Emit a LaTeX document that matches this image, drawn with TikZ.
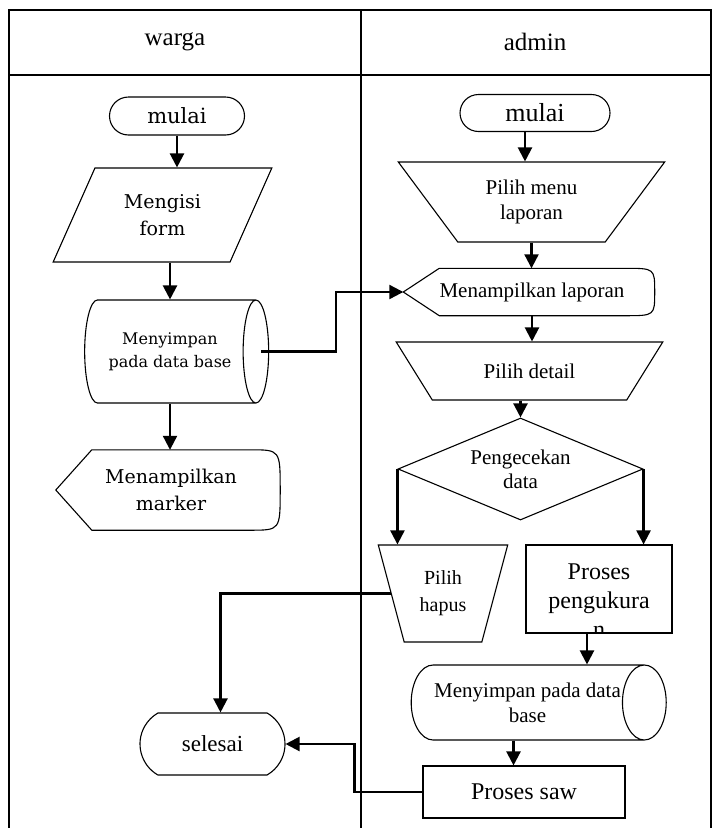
\documentclass[tikz,border=0pt]{standalone}
\usepackage{fontspec}
\setmainfont{Liberation Serif}
\newfontfamily\palfont{DejaVu Serif}
\usetikzlibrary{shapes.geometric,shapes.misc,arrows.meta}

\newcommand{\fs}[2]{\fontsize{#1}{#2}\selectfont}

\tikzset{
  base/.style={draw, line width=1.1pt, align=center, inner sep=0pt},
  terminal/.style={base, rounded rectangle, minimum width=#1, minimum height=38pt},
  inputbox/.style={base, trapezium, trapezium stretches=true, trapezium left angle=60, trapezium right angle=120},
  manualop/.style={base, trapezium, trapezium stretches=true, shape border rotate=180, trapezium angle=#1},
  % cylinder: minimum width is the vertical size here, minimum height the horizontal one
  storage/.style={base, cylinder, aspect=#1},
  procbox/.style={base, rectangle},
  decision/.style={base, diamond, aspect=2.4},
  display/.style={align=center, inner sep=0pt,
    append after command={\pgfextra{\draw[line width=1.1pt]
      (\tikzlastnode.north west) -- (\tikzlastnode.north east)
      .. controls ([xshift=30pt]\tikzlastnode.north east) .. ([xshift=30pt]\tikzlastnode.east)
      .. controls ([xshift=30pt]\tikzlastnode.south east) .. (\tikzlastnode.south east)
      -- (\tikzlastnode.south west) -- ([xshift=-36pt]\tikzlastnode.west) -- cycle;}}},
  arr/.style={line width=2.2pt, -{Triangle[length=14pt,width=14pt]}},
  frame/.style={line width=1.2pt}
}

\begin{document}
\begin{tikzpicture}[x=1pt,y=-1pt]
\useasboundingbox (0,0) rectangle (713,828);

% lanes
\draw[frame] (9,828) -- (9,10) -- (711,10) -- (711,828);
\draw[frame] (361,10) -- (361,828);
\draw[line width=1.8pt] (9,75) -- (711,75);
\node[font=\fs{25}{29}] (laneW) at (175,42) {warga};
\node[font=\fs{25}{29}] (laneA) at (535,42) {admin};

% warga
\node[terminal=135pt, font=\palfont\fs{21}{25}] (mulaiW) at (177,116) {mulai};
\node[inputbox, minimum width=219pt, minimum height=94pt, font=\palfont\fs{19}{27}] (form) at (162.5,215) {Mengisi\\form};
\node[storage=0.67, minimum width=103pt, minimum height=184pt, font=\palfont\fs{16}{23}] (simpanW) at (170,351.5) {Menyimpan\\pada data base};
\node[display, minimum width=158pt, minimum height=80pt, font=\palfont\fs{19}{27}] (marker) at (171,490) {Menampilkan\\marker};
\node[terminal=145pt, minimum height=62pt, rounded rectangle arc length=120, font=\fs{23}{27}] (selesai) at (212.5,744) {selesai};

% admin
\node[terminal=150pt, minimum height=37pt, font=\fs{26}{30}] (mulaiA) at (535,113) {mulai};
\node[manualop=50, minimum width=267pt, minimum height=80pt, font=\fs{21}{25}] (menu) at (531.5,202) {Pilih menu\\laporan};
\node[display, minimum width=185pt, minimum height=47pt, font=\fs{21}{25}] (laporan) at (532,292) {Menampilkan laporan};
\node[manualop=41, minimum width=267pt, minimum height=58pt, font=\fs{21}{25}] (detail) at (529.5,371) {Pilih detail};
\node[decision, minimum width=245pt, minimum height=102pt, font=\fs{21}{24}] (cek) at (520.5,469) {Pengecekan\\data};
\node[manualop=71, minimum width=130pt, minimum height=97pt, font=\fs{20}{27}] (hapus) at (443,593.5) {Pilih\\hapus};
\node[procbox, minimum width=146pt, minimum height=88pt] (ukur) at (599,589) {};
\begin{scope}
\clip (ukur.south west) rectangle (ukur.north east);
\node[align=center, font=\fs{24}{29}] (ukurtext) at ([yshift=-12pt]ukur.center) {Proses\\pengukura\\n};
\end{scope}
\node[storage=1.1, minimum width=75pt, minimum height=255pt, font=\fs{21}{25}] (simpanA) at (527.5,702.5) {Menyimpan pada data\\base};
\node[procbox, minimum width=202pt, minimum height=52pt, font=\fs{24}{28}] (saw) at (524,792) {Proses saw};

% arrows
\draw[arr] (mulaiW.south) -- (mulaiW.south |- form.north);
\draw[arr] (form.south -| simpanW.north) -- (simpanW.north);
\draw[arr] (simpanW.south) -- (simpanW.south |- marker.north);
\draw[arr] ([xshift=-8pt]simpanW.east) -- ++(75,0) |- ([xshift=-36pt]laporan.west);
\draw[arr] ([xshift=-10pt]mulaiA.south) -- ([xshift=-10pt]mulaiA.south |- menu.north);
\draw[arr] (menu.south) -- (menu.south |- laporan.north);
\draw[arr] (laporan.south) -- (laporan.south |- detail.north);
\draw[arr] (cek.north |- detail.south) -- (cek.north);
\draw[arr] (cek.west) -- (cek.west |- hapus.north);
\draw[arr] (cek.east) -- (cek.east |- ukur.north);
\draw[arr] ([xshift=-12pt]ukur.south) -- ([xshift=-12pt]ukur.south |- simpanA.north);
\draw[arr] ([xshift=-14pt]simpanA.south) -- ([xshift=-14pt]simpanA.south |- saw.north);
\draw[arr] (hapus.west) -| ([xshift=8pt]selesai.north);
\draw[arr] (saw.west) -- ++(-68,0) |- (selesai.east);
\end{tikzpicture}
\end{document}
